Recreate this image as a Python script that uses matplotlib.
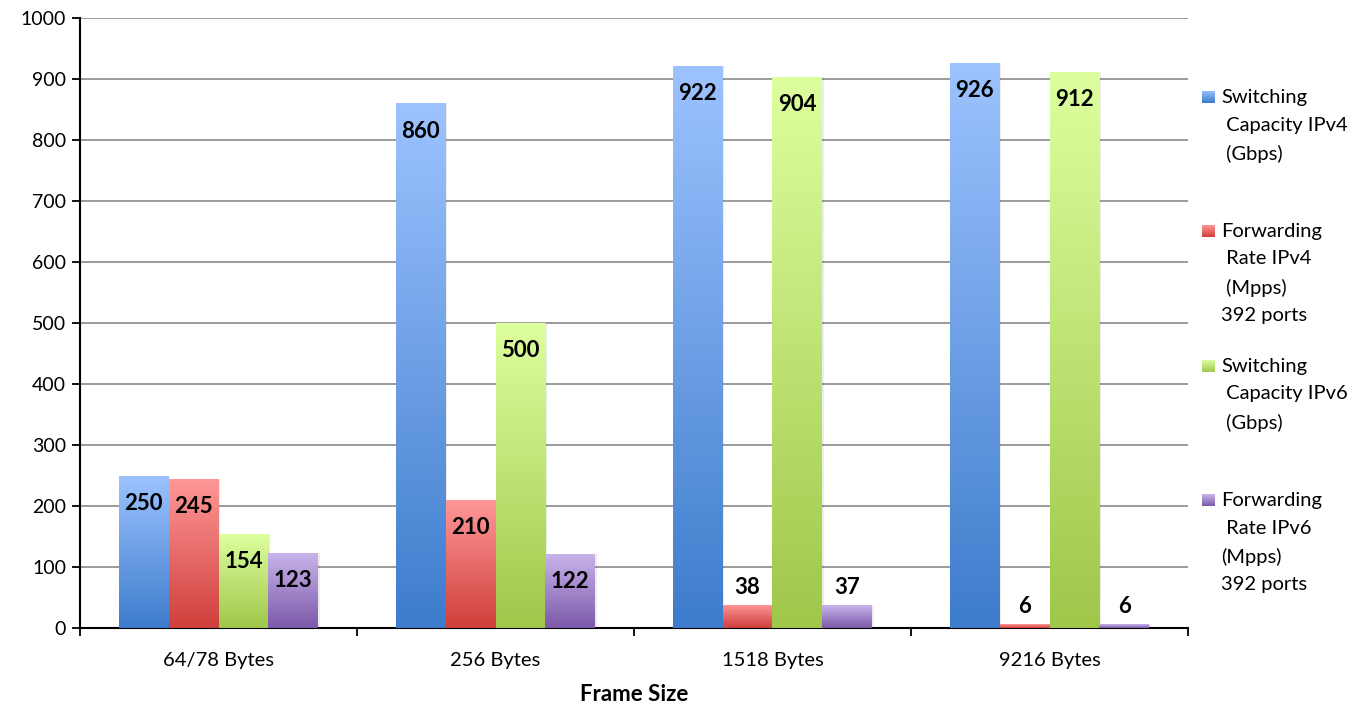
import numpy as np
import matplotlib
matplotlib.use("Agg")
import matplotlib.pyplot as plt
from matplotlib.colors import LinearSegmentedColormap

plt.rcParams['font.family'] = ['Lato', 'DejaVu Sans']

categories = ["64/78 Bytes", "256 Bytes", "1518 Bytes", "9216 Bytes"]
switching_ipv4 = [250, 860, 922, 926]
forwarding_ipv4 = [245, 210, 38, 6]
switching_ipv6 = [154, 500, 904, 912]
forwarding_ipv6 = [123, 122, 37, 6]

series = [switching_ipv4, forwarding_ipv4, switching_ipv6, forwarding_ipv6]
legend_labels = [
    "Switching\n Capacity IPv4\n (Gbps)",
    "Forwarding\n Rate IPv4\n (Mpps)\n392 ports",
    "Switching\n Capacity IPv6\n (Gbps)",
    "Forwarding\n Rate IPv6\n(Mpps)\n392 ports",
]
# (top colour, bottom colour) for each series gradient
gradients = [
    ("#9DC3FF", "#3D7CCC"),
    ("#FF9898", "#CF3F3B"),
    ("#DDFF9E", "#9FC74A"),
    ("#C9B5EC", "#7C59A9"),
]

fig = plt.figure(figsize=(13.69, 7.04), dpi=100)
ax = fig.add_axes([80 / 1369, 1 - 628 / 704, (1188 - 80) / 1369, (628 - 18) / 704])

x = np.arange(len(categories))
width = 0.18
offsets = [-1.5 * width, -0.5 * width, 0.5 * width, 1.5 * width]

ramp = np.linspace(1, 0, 256).reshape(-1, 1)

for vals, off, (top, bot) in zip(series, offsets, gradients):
    cmap = LinearSegmentedColormap.from_list("g", [bot, top])
    bars = ax.bar(x + off, vals, width, color="none", edgecolor="none", zorder=3)
    for b, v in zip(bars, vals):
        x0, w, h = b.get_x(), b.get_width(), b.get_height()
        # faint shadow to the right of each bar
        ax.add_patch(plt.Rectangle((x0 + 0.006, 0), w, h, color="#000000",
                                   alpha=0.07, lw=0, zorder=2))
        im = ax.imshow(ramp, cmap=cmap, aspect="auto", extent=(x0, x0 + w, 0, h),
                       origin="upper", zorder=3, interpolation="bilinear")
        im.set_clip_path(b)
        if v >= 80:
            ax.annotate(f"{v}", (x0 + w / 2, h), xytext=(0, -20), textcoords="offset points",
                        ha="center", va="center", fontsize=16, fontweight="bold", zorder=5)
        else:
            ax.annotate(f"{v}", (x0 + w / 2, h), xytext=(0, 5), textcoords="offset points",
                        ha="center", va="bottom", fontsize=16, fontweight="bold", zorder=5)

ax.set_xlim(-0.5, len(categories) - 0.5)
ax.set_ylim(0, 1000)
ax.set_yticks(np.arange(0, 1001, 100))
ax.yaxis.grid(True, color="#8a8a8a", linewidth=1.2, zorder=0)
ax.set_axisbelow(True)

ax.set_xticks(np.arange(-0.5, len(categories), 1.0))
ax.set_xticklabels([])
ax.set_xticks(x, minor=True)
ax.set_xticklabels(categories, minor=True)
ax.tick_params(axis="x", which="minor", length=0, labelsize=14.5, pad=17)
ax.tick_params(axis="x", which="major", length=6, width=1.3, direction="out")
ax.tick_params(axis="y", length=6, width=1.3, labelsize=14, pad=4)

for s in ["top", "right"]:
    ax.spines[s].set_visible(False)
for s in ["left", "bottom"]:
    ax.spines[s].set_color("black")
    ax.spines[s].set_linewidth(1.5)

ax.set_xlabel("Frame Size", fontsize=16, fontweight="bold", labelpad=11)

# legend drawn as swatches with multi-line captions
legend_tops = [97, 231, 366, 500]
for lab, ytop, (top, bot) in zip(legend_labels, legend_tops, gradients):
    cax = fig.add_axes([1202 / 1369, 1 - (ytop + 6) / 704, 13 / 1369, 12 / 704])
    cax.imshow(ramp, cmap=LinearSegmentedColormap.from_list("g", [bot, top]),
               aspect="auto", interpolation="bilinear")
    cax.axis("off")
    fig.text(1221 / 1369, 1 - (ytop - 8) / 704, lab, fontsize=14.5, va="top", ha="left",
             linespacing=1.75)

fig.savefig("out.png", dpi=100)
